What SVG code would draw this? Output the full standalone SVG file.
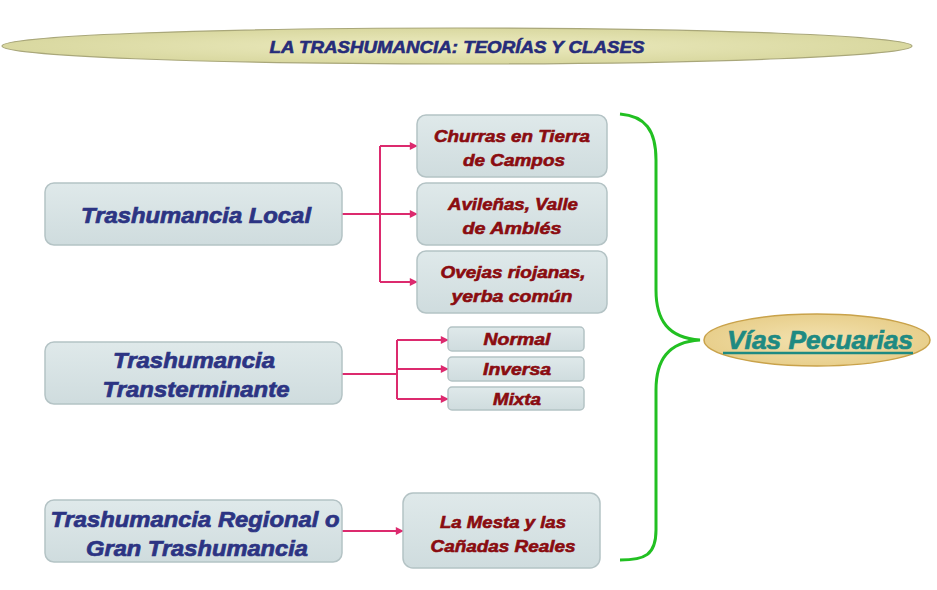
<svg xmlns="http://www.w3.org/2000/svg" width="937" height="590" viewBox="0 0 937 590">
<defs>
<linearGradient id="boxg" x1="0" y1="0" x2="0" y2="1">
<stop offset="0" stop-color="#dfe9ea"/>
<stop offset="1" stop-color="#cfdcde"/>
</linearGradient>
<radialGradient id="titleg" cx="0.5" cy="0.5" r="0.5">
<stop offset="0" stop-color="#ecebc0"/>
<stop offset="1" stop-color="#d9d8a0"/>
</radialGradient>
<radialGradient id="viag" cx="0.5" cy="0.5" r="0.5">
<stop offset="0" stop-color="#f3e2b0"/>
<stop offset="1" stop-color="#e8cf8c"/>
</radialGradient>
<marker id="arr" viewBox="0 0 10 10" refX="9" refY="5" markerWidth="9" markerHeight="8" markerUnits="userSpaceOnUse" orient="auto">
<path d="M0,0 L10,5 L0,10 z" fill="#dc2a6e"/>
</marker>
</defs>
<style>
.box{fill:url(#boxg);stroke:#b4c3c5;stroke-width:1.5}
.lt{font-family:"Liberation Sans",Arial,sans-serif;font-weight:bold;font-style:italic;font-size:22px;fill:#2c3483;stroke:#2c3483;stroke-width:0.7;text-anchor:middle}
.rt{font-family:"Liberation Sans",Arial,sans-serif;font-weight:bold;font-style:italic;font-size:17px;fill:#8a0c10;stroke:#8a0c10;stroke-width:0.6;text-anchor:middle}
.con{fill:none;stroke:#dc2a6e;stroke-width:2}
</style>
<rect width="937" height="590" fill="#ffffff"/>

<g id="title">
<ellipse cx="457" cy="46" rx="455" ry="18" fill="url(#titleg)" stroke="#a9a77a" stroke-width="1.2"/>
<text x="457" y="53" font-family="'Liberation Sans',Arial,sans-serif" font-weight="bold" font-style="italic" font-size="17" fill="#262c7a" stroke="#262c7a" stroke-width="0.6" text-anchor="middle" textLength="375" lengthAdjust="spacingAndGlyphs">LA TRASHUMANCIA: TEORÍAS Y CLASES</text>
</g>

<g id="connectors">
<path class="con" d="M342,214 H380"/>
<path class="con" d="M380,146 V282"/>
<path class="con" d="M380,146 H417" marker-end="url(#arr)"/>
<path class="con" d="M380,214 H417" marker-end="url(#arr)"/>
<path class="con" d="M380,282 H417" marker-end="url(#arr)"/>
<path class="con" d="M342,374 H397"/>
<path class="con" d="M397,340 V399"/>
<path class="con" d="M397,340 H448" marker-end="url(#arr)"/>
<path class="con" d="M397,369 H448" marker-end="url(#arr)"/>
<path class="con" d="M397,399 H448" marker-end="url(#arr)"/>
<path class="con" d="M342,531 H403" marker-end="url(#arr)"/>
<path d="M620,114 C645,116 656,130 656,160 V290 C656,320 668,338 700,340 C668,342 656,360 656,390 V530 C656,555 645,560 620,560" fill="none" stroke="#22c022" stroke-width="3"/>
</g>

<g id="n-local">
<rect class="box" x="45" y="183" width="297" height="62" rx="9"/>
<text class="lt" x="196" y="223" textLength="230" lengthAdjust="spacingAndGlyphs">Trashumancia Local</text>
</g>
<g id="n-trans">
<rect class="box" x="45" y="342" width="297" height="62" rx="9"/>
<text class="lt" x="194" y="368" textLength="162" lengthAdjust="spacingAndGlyphs">Trashumancia</text>
<text class="lt" x="196" y="397" textLength="187" lengthAdjust="spacingAndGlyphs">Transterminante</text>
</g>
<g id="n-regional">
<rect class="box" x="45" y="500" width="297" height="62" rx="9"/>
<text class="lt" x="195" y="527" textLength="289" lengthAdjust="spacingAndGlyphs">Trashumancia Regional o</text>
<text class="lt" x="197" y="556" textLength="222" lengthAdjust="spacingAndGlyphs">Gran Trashumancia</text>
</g>

<g id="n-churras">
<rect class="box" x="417" y="115" width="190" height="62" rx="9"/>
<text class="rt" x="512" y="142" textLength="156" lengthAdjust="spacingAndGlyphs">Churras en Tierra</text>
<text class="rt" x="514" y="166" textLength="102" lengthAdjust="spacingAndGlyphs">de Campos</text>
</g>
<g id="n-avilenas">
<rect class="box" x="417" y="183" width="190" height="62" rx="9"/>
<text class="rt" x="513" y="210" textLength="130" lengthAdjust="spacingAndGlyphs">Avileñas, Valle</text>
<text class="rt" x="512" y="234" textLength="99" lengthAdjust="spacingAndGlyphs">de Amblés</text>
</g>
<g id="n-ovejas">
<rect class="box" x="417" y="251" width="190" height="62" rx="9"/>
<text class="rt" x="513" y="278" textLength="145" lengthAdjust="spacingAndGlyphs">Ovejas riojanas,</text>
<text class="rt" x="512" y="302" textLength="121" lengthAdjust="spacingAndGlyphs">yerba común</text>
</g>
<g id="n-normal">
<rect class="box" x="448" y="327" width="136" height="24" rx="4"/>
<text class="rt" x="517" y="345" textLength="67" lengthAdjust="spacingAndGlyphs">Normal</text>
</g>
<g id="n-inversa">
<rect class="box" x="448" y="357" width="136" height="24" rx="4"/>
<text class="rt" x="517" y="375" textLength="68" lengthAdjust="spacingAndGlyphs">Inversa</text>
</g>
<g id="n-mixta">
<rect class="box" x="448" y="387" width="136" height="23" rx="4"/>
<text class="rt" x="517" y="405" textLength="48" lengthAdjust="spacingAndGlyphs">Mixta</text>
</g>
<g id="n-mesta">
<rect class="box" x="403" y="493" width="197" height="75" rx="10"/>
<text class="rt" x="503" y="528" textLength="126" lengthAdjust="spacingAndGlyphs">La Mesta y las</text>
<text class="rt" x="503" y="552" textLength="145" lengthAdjust="spacingAndGlyphs">Cañadas Reales</text>
</g>

<g id="n-vias">
<ellipse cx="817" cy="340" rx="113" ry="26" fill="url(#viag)" stroke="#c9a24a" stroke-width="1.5"/>
<text x="820" y="349" font-family="'Liberation Sans',Arial,sans-serif" font-weight="bold" font-style="italic" font-size="26" fill="#1e8a82" stroke="#1e8a82" stroke-width="0.7" text-anchor="middle" textLength="186" lengthAdjust="spacingAndGlyphs">Vías Pecuarias</text>
<line x1="723" y1="353" x2="913" y2="353" stroke="#1e8a82" stroke-width="2.5"/>
</g>
</svg>
